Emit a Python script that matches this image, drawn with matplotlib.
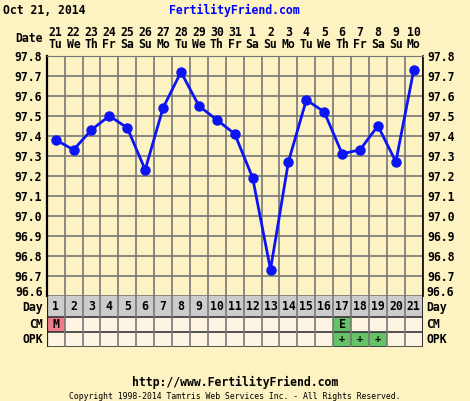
import matplotlib.pyplot as plt
import matplotlib.patches as mpatches

# chart data
days = list(range(1, 22))
dates = ['21', '22', '23', '24', '25', '26', '27', '28', '29', '30', '31',
         '1', '2', '3', '4', '5', '6', '7', '8', '9', '10']
weekdays = ['Tu', 'We', 'Th', 'Fr', 'Sa', 'Su', 'Mo', 'Tu', 'We', 'Th', 'Fr',
            'Sa', 'Su', 'Mo', 'Tu', 'We', 'Th', 'Fr', 'Sa', 'Su', 'Mo']
temps = [97.38, 97.33, 97.43, 97.50, 97.44, 97.23, 97.54, 97.72, 97.55, 97.48, 97.41,
         97.19, 96.73, 97.27, 97.58, 97.52, 97.31, 97.33, 97.45, 97.27, 97.73]
cm_marks = {1: 'M', 17: 'E'}
opk_marks = {17: '+', 18: '+', 19: '+'}
y_ticks = [96.6, 96.7, 96.8, 96.9, 97.0, 97.1, 97.2, 97.3, 97.4, 97.5, 97.6, 97.7, 97.8]

W, H = 470, 401
BG = '#FCF2C2'
ROW_BG = '#FDF5E2'
GRID = '#777777'
BLUE = '#0A14F5'
FONT = 'DejaVu Sans Mono'
FS = 8.3

fig = plt.figure(figsize=(W / 100, H / 100), dpi=100, facecolor=BG)


def fx(px):
    return px / W


def fy(py):
    return 1 - py / H


left, right, top, bottom = 46.7, 422.7, 56, 295.5
ax = fig.add_axes([fx(left), fy(bottom), fx(right - left), (bottom - top) / H])
ax.set_facecolor(BG)
ax.plot(days, temps, color=BLUE, lw=2, marker='o', ms=6.5, zorder=3)
ax.set_xlim(0.5, 21.5)
ax.set_ylim(96.6, 97.8)
ax.set_xticks([d + 0.5 for d in range(0, 22)])
ax.set_yticks(y_ticks)
# lowest label is drawn by hand a little higher, like the reference
ax.set_yticklabels([''] + ['%.1f' % v for v in y_ticks[1:]])
ax.grid(True, color=GRID, lw=1.2)
ax.tick_params(axis='x', length=0, labelbottom=False)
ax.tick_params(axis='y', length=0, pad=3.5, labelleft=True, labelright=True)
for lab in ax.get_yticklabels():
    lab.set_fontfamily(FONT)
    lab.set_fontweight('bold')
    lab.set_fontsize(FS)
ax.spines['top'].set_color(GRID)
ax.spines['left'].set_linewidth(1.6)
ax.spines['right'].set_linewidth(1.2)
ax.spines['bottom'].set_color('#333333')

fig.text(fx(43), fy(292.5), '%.1f' % y_ticks[0], ha='right', va='center',
         family=FONT, weight='bold', fontsize=FS)
fig.text(fx(426.5), fy(292.5), '%.1f' % y_ticks[0], ha='left', va='center',
         family=FONT, weight='bold', fontsize=FS)

# date header
for d, num, wd in zip(days, dates, weekdays):
    ax.annotate(num, xy=(d, 1), xycoords=('data', 'axes fraction'), xytext=(0, 23),
                textcoords='offset pixels', ha='center', va='center',
                family=FONT, weight='bold', fontsize=FS)
    ax.annotate(wd, xy=(d, 1), xycoords=('data', 'axes fraction'), xytext=(0, 11),
                textcoords='offset pixels', ha='center', va='center',
                family=FONT, weight='bold', fontsize=FS)

# bottom table
rows = [('Day', 295.5, 317), ('CM', 317, 332), ('OPK', 332, 347)]
tax = fig.add_axes([fx(left), fy(347), fx(right - left), (347 - 295.5) / H])
tax.set_xlim(0.5, 21.5)
tax.set_ylim(347, 295.5)
tax.axis('off')
for name, y0, y1 in rows:
    tax.add_patch(mpatches.Rectangle((0.5, y0), 21, y1 - y0,
                                     facecolor='#CCCCCC' if name == 'Day' else ROW_BG,
                                     edgecolor='none'))
    tax.axhline(y1, color='#333333', lw=1.2)
    yc = (y0 + y1) / 2 + (1.5 if name == 'Day' else 0)
    fig.text(fx(43), fy(yc), name, ha='right', va='center', family=FONT,
             weight='bold', fontsize=FS)
    fig.text(fx(426.5), fy(yc), name, ha='left', va='center', family=FONT,
             weight='bold', fontsize=FS)

for d in days:
    tax.text(d, (295.5 + 317) / 2, str(d), ha='center', va='center',
             family=FONT, weight='bold', fontsize=FS)
for d, m in cm_marks.items():
    tax.add_patch(mpatches.Rectangle((d - 0.5, 317), 1, 15,
                                     facecolor='#F07A8A' if m == 'M' else '#66C266',
                                     edgecolor='none'))
    tax.text(d, 324.5, m, ha='center', va='center', family=FONT,
             weight='bold', fontsize=FS)
for d, m in opk_marks.items():
    tax.add_patch(mpatches.Rectangle((d - 0.5, 332), 1, 15,
                                     facecolor='#66C266', edgecolor='none'))
    tax.text(d, 339.5, m, ha='center', va='center', family=FONT,
             weight='bold', fontsize=FS - 1)
for k in range(0, 22):
    tax.axvline(k + 0.5, color=GRID, lw=1.2)
tax.axvline(0.5, color='#222222', lw=1.6)
tax.axvline(21.5, color='#222222', lw=1.2)

# header / footer text
fig.text(fx(3), fy(10), 'Oct 21, 2014', ha='left', va='center', family=FONT,
         weight='bold', fontsize=FS)
fig.text(fx(234), fy(10), 'FertilityFriend.com', ha='center', va='center',
         family=FONT, weight='bold', fontsize=FS, color='#0000FF')
fig.text(fx(43), fy(39), 'Date', ha='right', va='center', family=FONT,
         weight='bold', fontsize=FS)
fig.text(fx(235), fy(382), 'http://www.FertilityFriend.com', ha='center',
         va='center', family=FONT, weight='bold', fontsize=FS)
fig.text(fx(235), fy(396.5),
         'Copyright 1998-2014 Tamtris Web Services Inc. - All Rights Reserved.',
         ha='center', va='center', family=FONT, fontsize=5.9)

fig.savefig('out.png', dpi=100, facecolor=BG)
